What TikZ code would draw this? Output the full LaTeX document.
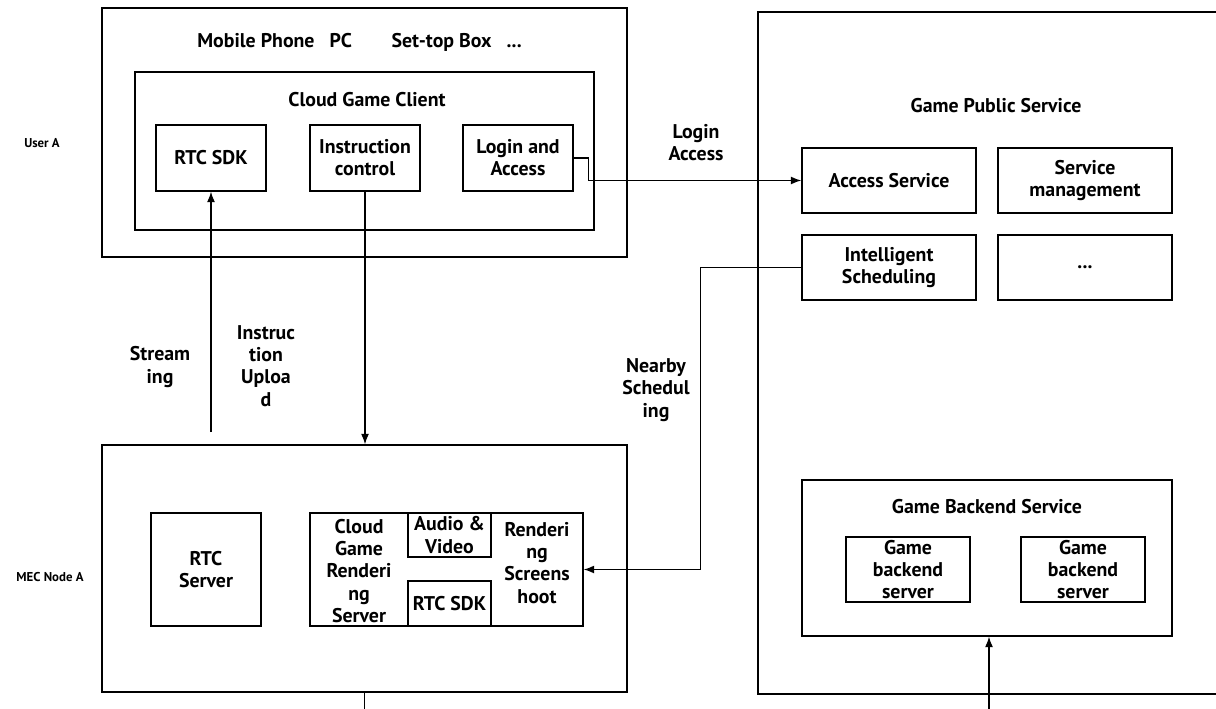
\documentclass[tikz,border=0pt]{standalone}
\usepackage{fontspec}
\setmainfont{PT Sans}
\usetikzlibrary{arrows.meta,fit}

\tikzset{
  lbl/.style={align=center, inner sep=0pt, font=\bfseries\fontsize{11.3}{12.6}\selectfont},
  box/.style={draw, line width=0.7pt, inner sep=0pt},
  boxtext/.style={box, label={[lbl]center:#1}},
  side/.style={font=\bfseries\fontsize{7.3}{8}\selectfont},
  link/.style={line width=0.7pt, -{Latex[length=6pt,width=4.5pt]}}
}

\begin{document}
\begin{tikzpicture}[x=0.02cm, y=-0.02cm]
        \useasboundingbox (0,0) rectangle (1216,709);

        % Usuario A
        \node[box, fit={(102,8) (627,257)}] (device) {};
        \node[lbl, anchor=west] (devices) at (197,42) {Mobile Phone\ \ \ PC\hspace{2em}Set-top Box\ \ \ ...};
        \node[box, fit={(135,72) (594,230)}] (client) {};
        \node[lbl] (clienttitle) at (367,100) {Cloud Game Client};
        \node[boxtext={RTC SDK}, fit={(156,125) (266,191)}] (sdk) {};
        \node[boxtext={Instruction\\control}, fit={(310,125) (420,191)}] (instr) {};
        \node[boxtext={Login and\\Access}, fit={(463,125) (573,191)}] (login) {};
        \node[side] (usera) at (42,143) {User A};

        % Servicio publico
        \node[box, fit={(758,12) (1240,694)}] (public) {};
        \node[lbl] (publictitle) at (996,106) {Game Public Service};
        \node[boxtext={Access Service}, fit={(802,148) (976,213)}] (access) {};
        \node[boxtext={Service\\management}, fit={(998,148) (1172,213)}] (manage) {};
        \node[boxtext={Intelligent\\Scheduling}, fit={(802,235) (976,300)}] (sched) {};
        \node[boxtext={...}, fit={(998,235) (1172,300)}] (more) {};
        \node[box, fit={(802,480) (1172,636)}] (backend) {};
        \node[lbl] (backendtitle) at (987,507) {Game Backend Service};
        \node[boxtext={Game\\backend\\server}, fit={(846,537) (970,602)}] (server1) {};
        \node[boxtext={Game\\backend\\server}, fit={(1021,537) (1145,602)}] (server2) {};

        % Nodo MEC
        \node[box, fit={(102,445) (627,692)}] (mec) {};
        \node[side] (mecname) at (50,577) {MEC Node A};
        \node[boxtext={RTC\\Server}, fit={(151,513) (261,626)}] (rtcserver) {};
        \node[box, fit={(310,513) (583,626)}] (render) {};
        \node[lbl] (cgrs) at (359,571) {Cloud\\Game\\Renderi\\ng\\Server};
        \node[boxtext={Audio \&\\Video}, fit={(408,513) (491,557)}] (av) {};
        \node[boxtext={RTC SDK}, fit={(408,581) (491,626)}] (sdk2) {};
        \node[lbl] (shot) at (537,563) {Renderi\\ng\\Screens\\hoot};

        % Conexiones
        \coordinate (streamfoot) at (211,432);
        \coordinate (backfoot) at (989,715);
        \draw[link] (streamfoot) -- (sdk.south);
        \draw[link] (instr.south) -- (instr.south |- mec.north);
        \draw[link] (login.east) -- ++(15,0) |- (access.west);
        \draw[link] (sched.west) -- ++(-101,0) |- (render.east);
        \draw[link] (backfoot) -- (backfoot |- backend.south);
        \draw[line width=0.7pt] (mec.south) -- ++(0,20);

        % Etiquetas
        \node[lbl] (loginlbl) at (696,143) {Login\\Access};
        \node[lbl] (streamlbl) at (160,367) {Stream\\ing};
        \node[lbl] (uploadlbl) at (266,366) {Instruc\\tion\\Uploa\\d};
        \node[lbl] (nearbylbl) at (656,390) {Nearby\\Schedul\\ing};
\end{tikzpicture}
\end{document}
